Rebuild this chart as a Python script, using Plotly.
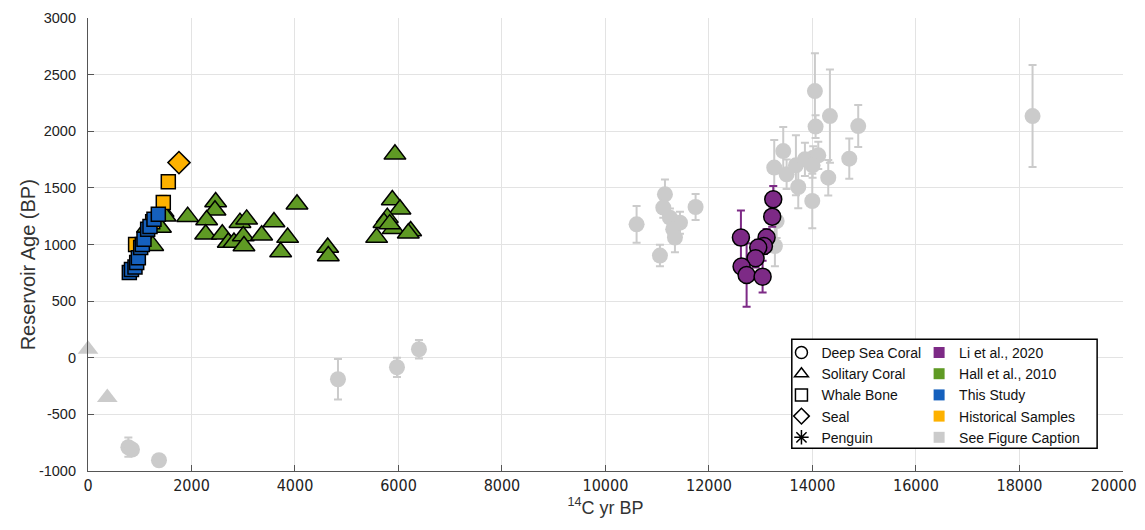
import plotly.graph_objects as go

# ---------------- data ----------------
# See Figure Caption (gray) - solitary coral (triangles)
gray_tri_x = [0, 373]
gray_tri_y = [75, -351]

# See Figure Caption (gray) - deep sea coral (circles)
gray_circ_x = [780, 850, 1372, 4831, 5971, 6396, 10602, 11150, 11118, 11246, 11440, 11310, 11343,
               11053, 11742, 14048, 14338, 14061, 14885, 13436, 13262, 13501, 13681, 13855, 14016,
               14113, 14003, 13726, 14306, 14712, 13997, 13308, 13275, 18254]
gray_circ_y = [-790, -810, -905, -190, -84, 75, 1178, 1443, 1326, 1237, 1193, 1134, 1061,
               902, 1331, 2355, 2134, 2041, 2046, 1825, 1679, 1620, 1699, 1752, 1767,
               1787, 1699, 1508, 1590, 1758, 1384, 1207, 987, 2134]
gray_circ_err = [85, 0, 0, 178, 85, 82, 162, 130, 90, 80, 97, 90, 130,
                 95, 115, 333, 412, 100, 185, 212, 243, 130, 265, 147, 100,
                 120, 110, 187, 157, 177, 240, 150, 180, 450]

# Li et al., 2020 (purple) - deep sea coral
li_x = [12618, 13243, 13223, 13114, 13063, 12953, 12901, 12631, 12728, 13037]
li_y = [1061, 1399, 1246, 1061, 987, 973, 878, 805, 731, 716]
li_err = [240, 117, 90, 75, 70, 70, 80, 60, 280, 140]

# Hall et al., 2010 (green) - solitary coral
hall_x = [1150, 1250, 1400, 1450, 1490, 1926, 2467, 2454, 2293, 2274, 2595, 2711, 2821, 2937,
          3066, 3001, 3014, 3356, 3594, 3858, 3723, 4039, 4632, 4644, 5932, 5881, 6029, 5784,
          5720, 5900, 5578, 6235, 6190, 5830]
hall_y = [1150, 990, 1150, 1290, 1250, 1246, 1375, 1302, 1216, 1090, 1090, 1017, 1017, 1193,
          1222, 1075, 987, 1081, 1199, 1061, 934, 1355, 973, 899, 1796, 1393, 1311, 1237,
          1193, 1140, 1061, 1119, 1100, 1180]

# This Study (blue) - whale bone
blue_x = [799, 840, 908, 941, 973, 1018, 1050, 1082, 1153, 1198, 1275, 1359]
blue_y = [752, 780, 801, 840, 884, 973, 1000, 1046, 1134, 1158, 1222, 1267]

# Historical Samples (orange) - whale bone and seal
hist_sq_x = [920, 1250, 1455, 1552]
hist_sq_y = [1000, 1200, 1370, 1555]
hist_sq_err = [40, 60, 60, 40]
hist_seal_x = [1758]
hist_seal_y = [1723]

x_ticks = [0, 2000, 4000, 6000, 8000, 10000, 12000, 14000, 16000, 18000, 20000]
y_ticks = [-1000, -500, 0, 500, 1000, 1500, 2000, 2500, 3000]

shape_labels = ["Deep Sea Coral", "Solitary Coral", "Whale Bone", "Seal", "Penguin"]
shape_symbols = ["circle-open", "triangle-up-open", "square-open", "diamond-open", "asterisk-open"]
source_labels = ["Li et al., 2020", "Hall et al., 2010", "This Study", "Historical Samples", "See Figure Caption"]

# ---------------- styles ----------------
GRAY = "#CBCBCB"
PURPLE = "#7D2A86"
GREEN = "#5F9A24"
BLUE = "#1560BD"
ORANGE = "#FDB100"
source_colors = [PURPLE, GREEN, BLUE, ORANGE, GRAY]
FONT = "Liberation Sans, Arial, Helvetica, sans-serif"
NARROW = "Liberation Sans Narrow, Arial Narrow, DejaVu Sans Condensed, sans-serif"

# last x label padded so that it stays inside the page
x_ticktext = [str(v) for v in x_ticks]
x_ticktext[-1] = x_ticktext[-1] + "\u00a0" * 4

fig = go.Figure()

fig.add_trace(go.Scatter(
    x=gray_tri_x, y=gray_tri_y, mode="markers", showlegend=False, cliponaxis=False,
    marker=dict(symbol="triangle-up", size=18, color=GRAY, line=dict(width=0))))

fig.add_trace(go.Scatter(
    x=gray_circ_x, y=gray_circ_y, mode="markers", showlegend=False,
    error_y=dict(type="data", array=gray_circ_err, color=GRAY, thickness=2, width=4),
    marker=dict(symbol="circle", size=16, color=GRAY, line=dict(width=0))))

fig.add_trace(go.Scatter(
    x=hall_x, y=hall_y, mode="markers", showlegend=False,
    marker=dict(symbol="triangle-up", size=19, color=GREEN, line=dict(width=1.5, color="black"))))

fig.add_trace(go.Scatter(
    x=hist_sq_x, y=hist_sq_y, mode="markers", showlegend=False,
    error_y=dict(type="data", array=hist_sq_err, color=ORANGE, thickness=2, width=4),
    marker=dict(symbol="square", size=14, color=ORANGE, line=dict(width=1.5, color="black"))))

fig.add_trace(go.Scatter(
    x=blue_x, y=blue_y, mode="markers", showlegend=False,
    marker=dict(symbol="square", size=14, color=BLUE, line=dict(width=1.5, color="black"))))

fig.add_trace(go.Scatter(
    x=hist_seal_x, y=hist_seal_y, mode="markers", showlegend=False,
    marker=dict(symbol="diamond", size=17, color=ORANGE, line=dict(width=1.5, color="black"))))

fig.add_trace(go.Scatter(
    x=li_x, y=li_y, mode="markers", showlegend=False,
    error_y=dict(type="data", array=li_err, color=PURPLE, thickness=2, width=4),
    marker=dict(symbol="circle", size=17, color=PURPLE, line=dict(width=1.5, color="black"))))

# legend entries
for lab, sym in zip(shape_labels, shape_symbols):
    fig.add_trace(go.Scatter(
        x=[None], y=[None], mode="markers", name=lab, legend="legend",
        marker=dict(symbol=sym, size=12, color="black", line=dict(width=1.5, color="black"))))
for lab, col in zip(source_labels, source_colors):
    fig.add_trace(go.Scatter(
        x=[None], y=[None], mode="markers", name=lab, legend="legend2",
        marker=dict(symbol="square", size=11, color=col, line=dict(width=0))))

# the page body has an 8px default margin, so the figure is drawn smaller to avoid scrollbars
fig.update_layout(
    width=1137, height=514,
    margin=dict(l=80, r=22, t=10, b=50.7, autoexpand=False),
    paper_bgcolor="white", plot_bgcolor="white",
    font=dict(family=FONT, size=13, color="#222"),
    xaxis=dict(range=[0, 20002], tickvals=x_ticks, ticktext=x_ticktext,
               automargin=False, ticklabeloverflow="allow",
               showgrid=True, gridcolor="#E3E3E3", gridwidth=1, zeroline=False,
               showline=True, linecolor="#555", linewidth=1.2, ticks="inside", ticklen=6,
               tickcolor="#555", tickfont=dict(family=NARROW, size=16, color="#222"),
               title=dict(text="<sup>14</sup>C yr BP", font=dict(size=18, color="#333"), standoff=6)),
    yaxis=dict(range=[-1000, 3000], tickvals=y_ticks, ticktext=[str(v) for v in y_ticks],
               automargin=False, ticklabelstandoff=8,
               showgrid=True, gridcolor="#E3E3E3", gridwidth=1, zeroline=False,
               showline=True, linecolor="#555", linewidth=1.2, ticks="inside", ticklen=6,
               tickcolor="#555", tickfont=dict(size=14.5, color="#222")),
    annotations=[dict(text="Reservoir Age (BP)", textangle=-90, xref="paper", yref="paper",
                      x=-0.0585, y=0.455, xanchor="center", yanchor="middle", showarrow=False,
                      font=dict(size=20, color="#333"))],
    legend=dict(x=0.670, y=0.296, xanchor="left", yanchor="top", bgcolor="rgba(0,0,0,0)",
                font=dict(size=14, color="#111"), tracegroupgap=0, itemwidth=30),
    legend2=dict(x=0.803, y=0.296, xanchor="left", yanchor="top", bgcolor="rgba(0,0,0,0)",
                 font=dict(size=14, color="#111"), tracegroupgap=0, itemwidth=30),
    shapes=[dict(type="rect", xref="paper", yref="paper", x0=0.680, x1=0.975, y0=0.050, y1=0.291,
                 line=dict(color="black", width=1.5), fillcolor="white", layer="above")],
)

fig.write_html("out.html")
